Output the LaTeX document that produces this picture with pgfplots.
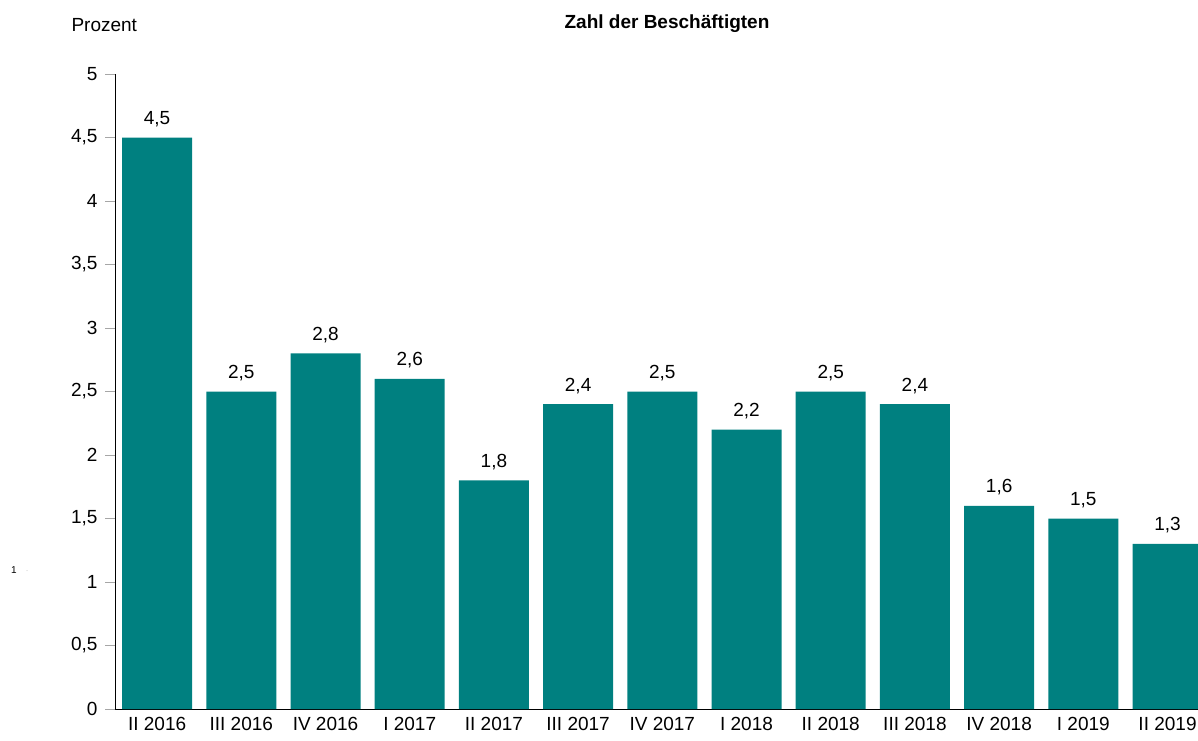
\documentclass[border=0pt]{standalone}
\usepackage{fontspec}
\setmainfont{Liberation Sans}
\usepackage{pgfplots}
\pgfplotsset{compat=1.18}
\definecolor{barteal}{HTML}{008080}
\begin{document}
\fontsize{19}{23}\selectfont
\begin{tikzpicture}[x=1pt,y=1pt]
\useasboundingbox (0,0) rectangle (1198,740);
\begin{axis}[
  at={(115pt,31pt)}, anchor=south west,
  scale only axis, width=1083pt, height=635pt,
  xmin=-0.5, xmax=12.362, ymin=0, ymax=5,
  axis x line*=bottom, axis y line*=left,
  axis line style={black, line width=0.8pt},
  ybar, bar width=70pt,
  xtick={0,...,12},
  xticklabels={II 2016, III 2016, IV 2016, I 2017, II 2017, III 2017, IV 2017, I 2018, II 2018, III 2018, IV 2018, I 2019, II 2019},
  xtick style={draw=none},
  minor xtick={-0.5,0.5,...,11.5},
  minor x tick style={gray!70, line width=0.6pt},
  minor tick length=6pt,
  ytick={0,0.5,...,5},
  ytick style={gray!70, line width=0.6pt},
  major tick length=10pt,
  tick align=outside,
  yticklabel style={/pgf/number format/use comma, /pgf/number format/assume math mode=true, xshift=-1pt},
  xticklabel style={/pgf/number format/assume math mode=true, yshift=8pt},
  ticklabel style={font=\fontsize{19}{23}\selectfont},
  nodes near coords,
  nodes near coords style={font=\fontsize{19}{23}\selectfont, /pgf/number format/fixed, /pgf/number format/precision=1, /pgf/number format/fixed zerofill, /pgf/number format/use comma, /pgf/number format/assume math mode=true, yshift=4pt},
]
\addplot[fill=barteal, draw=none] coordinates {
(0,4.5) (1,2.5) (2,2.8) (3,2.6) (4,1.8) (5,2.4) (6,2.5) (7,2.2) (8,2.5) (9,2.4) (10,1.6) (11,1.5) (12,1.3)};
\end{axis}
\node[anchor=west] at (65,715) {Prozent};
\node[font=\fontsize{19}{23}\selectfont\bfseries] at (667,716) {Zahl der Beschäftigten};
\node[font=\fontsize{10}{12}\selectfont] at (14,170) {1};
\fill[gray!50] (27,169.5) circle (0.5);
\end{tikzpicture}
\end{document}
